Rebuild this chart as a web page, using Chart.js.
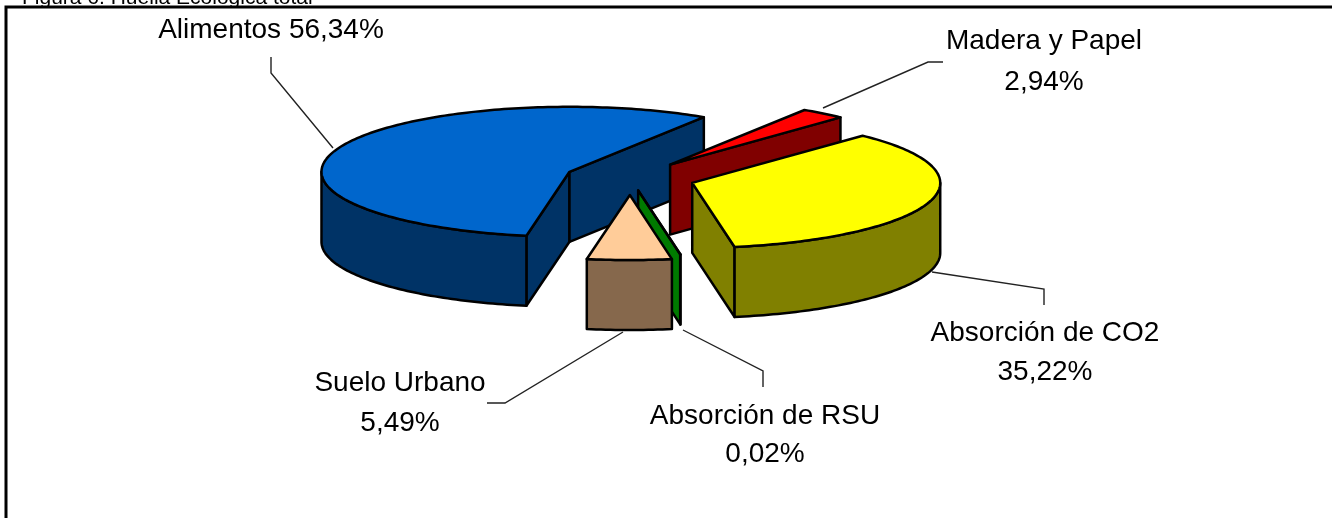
<!DOCTYPE html>
<html><head><meta charset="utf-8">
<style>html,body{margin:0;padding:0;background:#fff}#wrap{position:relative;width:1332px;height:518px}canvas{display:block}</style>
<script src="https://cdn.jsdelivr.net/npm/chart.js@4"></script>
</head><body><div id="wrap"><canvas id="c" width="1332" height="518"></canvas></div>
<script>
const categories = ["Alimentos","Madera y Papel","Absorción de CO2","Absorción de RSU","Suelo Urbano"];
const values = [56.34,2.94,35.22,0.02,5.49];
const valueLabels = ["56,34%","2,94%","35,22%","0,02%","5,49%"];
const topColors = ["#0066CC","#FF0000","#FFFF00","#008000","#FFCC99"];
const wallColors = ["#003366","#800000","#808000","#007A00","#86684C"];
const explodeBy = [65,65,65,48,65];
const chartTitle = "Figura 6. Huella Ecológica total";

const K = 0.262, WALL = 70, LW = 2.5, FONT = '28px "Liberation Sans", Arial, sans-serif';

// label placement: [centre x, first baseline, second baseline or null]
const labelLayout = [[271,38,null],[1044,49,90],[1045,341,380],[765,424,462],[400,391,431]];
const leaders = [
  [[271,57],[271,73],[333,148]],
  [[943,62],[928,62],[823,108]],
  [[1044,305],[1044,289],[932,272]],
  [[763,387],[763,371],[683,330]],
  [[487,403],[505,403],[623,332]]
];

function centre(chart){const A=chart.chartArea;return [(A.left+A.right)/2,(A.top+A.bottom)/2];}
function geom(chart){
  const Y0=centre(chart)[1];
  return chart.getDatasetMeta(0).data.map((a,i)=>{
    const p = a.getProps(['x','y','startAngle','endAngle','outerRadius'],true);
    const pr=(t,r=p.outerRadius)=>[p.x+r*Math.cos(t), Y0+(p.y-Y0+r*Math.sin(t))*K];
    return {i,s:p.startAngle,e:p.endAngle,apex:pr(0,0),pr};
  });
}
function poly(ctx,pts,fill){
  ctx.beginPath();pts.forEach((q,j)=>j?ctx.lineTo(q[0],q[1]):ctx.moveTo(q[0],q[1]));ctx.closePath();
  if(fill){ctx.fillStyle=fill;ctx.fill();}
  ctx.stroke();
}
function sweep(g,a,b){const n=Math.max(2,Math.ceil((b-a)/0.02));const o=[];for(let j=0;j<=n;j++)o.push(g.pr(a+(b-a)*j/n));return o;}
const down=q=>[q[0],q[1]+WALL];

const pie3d = {
  id:'pie3d',
  afterDatasetUpdate(chart,args){
    chart.getDatasetMeta(args.index).data.forEach((a,i)=>{
      const mid=(a.startAngle+a.endAngle)/2;
      a.x+=Math.cos(mid)*explodeBy[i];a.y+=Math.sin(mid)*explodeBy[i];
    });
  },
  beforeDatasetsDraw(chart){
    const ctx=chart.ctx, G=geom(chart);
    ctx.save();ctx.lineWidth=LW;ctx.lineJoin='round';ctx.strokeStyle='#000';
    G.forEach(g=>{
      const col=wallColors[g.i];
      [[g.s,Math.cos(g.s)<0],[g.e,Math.cos(g.e)>0]].forEach(([t,vis])=>{
        if(!vis)return;
        const r=g.pr(t);poly(ctx,[g.apex,r,down(r),down(g.apex)],col);
      });
      for(let k=-2;k<=2;k++){
        const a=Math.max(g.s,2*k*Math.PI),b=Math.min(g.e,2*k*Math.PI+Math.PI);
        if(b>a){const t=sweep(g,a,b);poly(ctx,t.concat(t.map(down).reverse()),col);}
      }
    });
    ctx.restore();
    const [cx,cy]=centre(chart);
    ctx.save();ctx.translate(cx,cy);ctx.scale(1,K);ctx.translate(-cx,-cy);
  },
  afterDatasetsDraw(chart){
    const ctx=chart.ctx;ctx.restore();
    ctx.save();ctx.lineWidth=LW;ctx.lineJoin='round';ctx.strokeStyle='#000';
    geom(chart).forEach(g=>poly(ctx,[g.apex].concat(sweep(g,g.s,g.e)),null));
    ctx.restore();
  },
  afterDraw(chart){
    const ctx=chart.ctx;
    ctx.save();
    ctx.strokeStyle='#000';ctx.lineWidth=3;
    ctx.beginPath();ctx.moveTo(6,518);ctx.lineTo(6,7);ctx.lineTo(1332,7);ctx.stroke();
    ctx.fillStyle='#000';ctx.font='21px "Liberation Sans", Arial, sans-serif';ctx.textAlign='left';
    ctx.fillText(chartTitle,22,4);
    ctx.lineWidth=1.4;ctx.strokeStyle='#222';
    leaders.forEach(l=>{ctx.beginPath();l.forEach((q,j)=>j?ctx.lineTo(q[0],q[1]):ctx.moveTo(q[0],q[1]));ctx.stroke();});
    ctx.font=FONT;ctx.textAlign='center';ctx.fillStyle='#000';
    categories.forEach((c,i)=>{
      const [x,y1,y2]=labelLayout[i];
      if(y2===null){ctx.fillText(c+' '+valueLabels[i],x,y1);}
      else{ctx.fillText(c,x,y1);ctx.fillText(valueLabels[i],x,y2);}
    });
    ctx.restore();
  }
};

new Chart(document.getElementById('c'),{
  type:'pie',
  data:{labels:categories,datasets:[{data:values,backgroundColor:topColors,borderWidth:0,offset:0,hoverOffset:0,clip:false}]},
  options:{
    responsive:false,animation:false,
    rotation:190,radius:248,
    layout:{padding:{right:72,bottom:162}},
    events:[],
    plugins:{legend:{display:false},tooltip:{enabled:false},title:{display:false}}
  },
  plugins:[pie3d]
});
</script></body></html>
